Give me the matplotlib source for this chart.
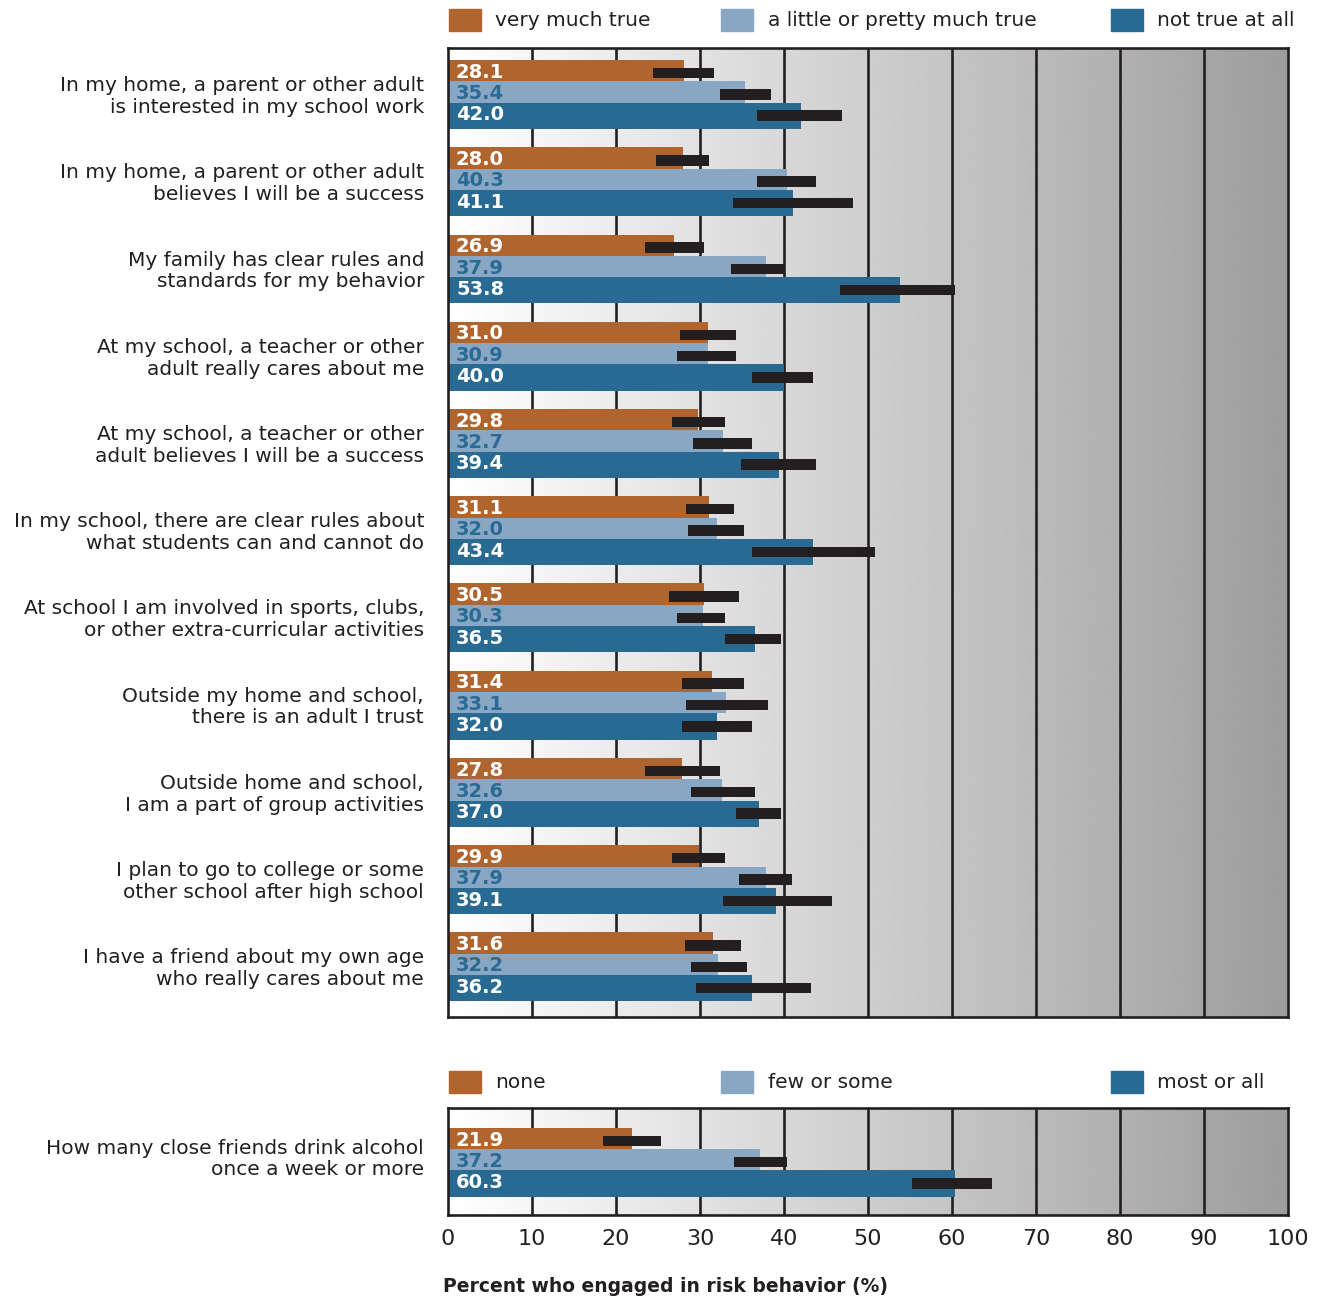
import matplotlib.pyplot as plt
import numpy as np

W, H = 1324, 1301

questions = [
    "In my home, a parent or other adult\nis interested in my school work",
    "In my home, a parent or other adult\nbelieves I will be a success",
    "My family has clear rules and\nstandards for my behavior",
    "At my school, a teacher or other\nadult really cares about me",
    "At my school, a teacher or other\nadult believes I will be a success",
    "In my school, there are clear rules about\nwhat students can and cannot do",
    "At school I am involved in sports, clubs,\nor other extra-curricular activities",
    "Outside my home and school,\nthere is an adult I trust",
    "Outside home and school,\nI am a part of group activities",
    "I plan to go to college or some\nother school after high school",
    "I have a friend about my own age\nwho really cares about me",
]
very_much = [28.1, 28.0, 26.9, 31.0, 29.8, 31.1, 30.5, 31.4, 27.8, 29.9, 31.6]
little = [35.4, 40.3, 37.9, 30.9, 32.7, 32.0, 30.3, 33.1, 32.6, 37.9, 32.2]
not_true = [42.0, 41.1, 53.8, 40.0, 39.4, 43.4, 36.5, 32.0, 37.0, 39.1, 36.2]

very_lo = [24.4, 24.8, 23.5, 27.6, 26.7, 28.3, 26.3, 27.9, 23.5, 26.7, 28.2]
very_hi = [31.7, 31.1, 30.5, 34.3, 33.0, 34.0, 34.6, 35.2, 32.4, 33.0, 34.9]
little_lo = [32.4, 36.8, 33.7, 27.3, 29.2, 28.6, 27.3, 28.3, 28.9, 34.6, 28.9]
little_hi = [38.4, 43.8, 40.0, 34.3, 36.2, 35.2, 33.0, 38.1, 36.5, 41.0, 35.6]
not_lo = [36.8, 33.9, 46.7, 36.2, 34.9, 36.2, 33.0, 27.9, 34.3, 32.7, 29.5]
not_hi = [46.9, 48.2, 60.3, 43.5, 43.8, 50.8, 39.7, 36.2, 39.7, 45.7, 43.2]

alc_question = "How many close friends drink alcohol\nonce a week or more"
alc_vals = [21.9, 37.2, 60.3]
alc_lo = [18.4, 34.0, 55.2]
alc_hi = [25.4, 40.3, 64.8]

legend_top = ["very much true", "a little or pretty much true", "not true at all"]
legend_bottom = ["none", "few or some", "most or all"]
xticks = list(range(0, 101, 10))

colors = ["#b0652f", "#87a7c4", "#286a91"]
label_colors = ["white", "#2b6a93", "white"]
ink = "#231f20"
font = "DejaVu Sans"

# geometry in "group" units (1 unit = one question block)
bar_h = [0.244, 0.244, 0.302]
bar_top = [0.0, 0.244, 0.488]
ci_off = 0.149
ci_h = 0.12


def fig_rect(x0, y0, x1, y1):
    return [x0 / W, 1 - y1 / H, (x1 - x0) / W, (y1 - y0) / H]


fig = plt.figure(figsize=(W / 100, H / 100), dpi=100)
ax1 = fig.add_axes(fig_rect(448, 48, 1288, 1017))
ax2 = fig.add_axes(fig_rect(448, 1108, 1288, 1215))

grad = np.linspace(1.0, 0.615, 400).reshape(1, -1)


def draw_panel(ax, ylim, groups):
    ax.imshow(grad, cmap="gray", vmin=0, vmax=1, aspect="auto",
              extent=[0, 100, ylim[0], ylim[1]], zorder=0)
    ax.set_xlim(0, 100)
    ax.set_ylim(ylim)
    for x in xticks[1:-1]:
        ax.axvline(x, color=ink, lw=1.9, zorder=1)
    for g, (vals, lo, hi) in enumerate(groups):
        for k in range(3):
            top = g + bar_top[k]
            ax.barh(top + bar_h[k] / 2, vals[k], height=bar_h[k], color=colors[k],
                    zorder=2)
            ax.barh(top + ci_off, hi[k] - lo[k], left=lo[k], height=ci_h,
                    color=ink, zorder=3)
            ax.text(0.95, top + 0.14, f"{vals[k]:.1f}", color=label_colors[k],
                    fontsize=14, fontweight="bold", family=font,
                    va="center", ha="left", zorder=4)
    for s in ax.spines.values():
        s.set_linewidth(1.9)
        s.set_color(ink)
        s.set_zorder(5)
    ax.set_yticks([])


groups = [([very_much[i], little[i], not_true[i]],
           [very_lo[i], little_lo[i], not_lo[i]],
           [very_hi[i], little_hi[i], not_hi[i]]) for i in range(len(questions))]
draw_panel(ax1, (10.969, -0.138), groups)
ax1.set_xticks([])

draw_panel(ax2, (1.0, -0.229), [(alc_vals, alc_lo, alc_hi)])
ax2.set_xticks(xticks)
ax2.tick_params(axis="x", length=0, pad=10, labelsize=16, labelcolor=ink)
for t in ax2.get_xticklabels():
    t.set_family(font)

# question labels
for i, q in enumerate(questions):
    yc = 48 + (i + 0.138 + 0.397) * 87.2 + 2
    fig.text(424 / W, 1 - yc / H, q, ha="right", va="center", fontsize=14.5,
             family=font, color=ink, linespacing=1.19)
fig.text(424 / W, 1 - 1159 / H, alc_question, ha="right", va="center",
         fontsize=14.5, family=font, color=ink, linespacing=1.19)

# legends
for labels, yc in [(legend_top, 20), (legend_bottom, 1082)]:
    for k, (sx, tx) in enumerate([(449, 495), (721, 768), (1111, 1157)]):
        fig.patches.append(plt.Rectangle((sx / W, 1 - (yc + 11) / H), 32 / W, 22 / H,
                                         transform=fig.transFigure, color=colors[k]))
        fig.text(tx / W, 1 - yc / H, labels[k], ha="left", va="center",
                 fontsize=14.5, family=font, color=ink)

fig.text(443 / W, 1 - 1287 / H, "Percent who engaged in risk behavior (%)",
         ha="left", va="center", fontsize=13.5, fontweight="bold", family=font,
         color=ink)

fig.savefig("out.png", dpi=100)
